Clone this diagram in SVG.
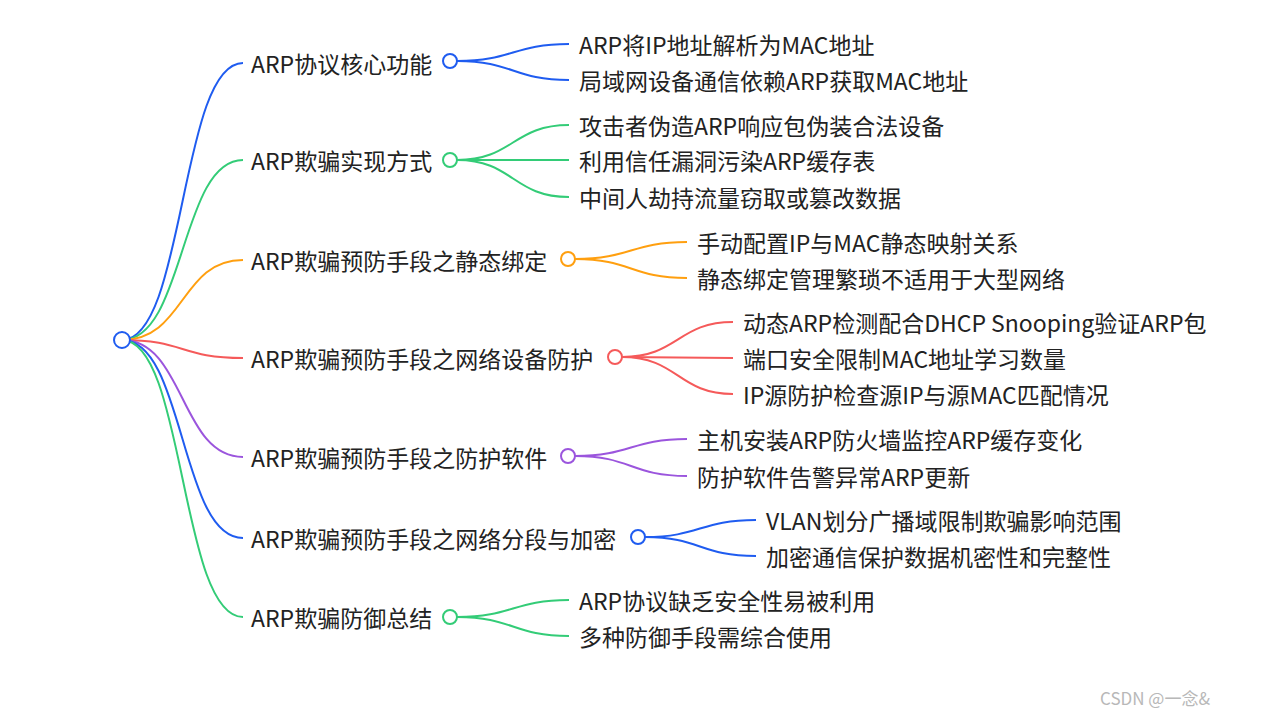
<svg xmlns="http://www.w3.org/2000/svg" width="1261" height="718" viewBox="0 0 1261 718">
<style>
text{font-family:"Noto Sans CJK SC","Noto Sans",sans-serif;font-size:23px;fill:#222;dominant-baseline:central}
.c{fill:none;stroke-width:2}
.n{fill:#fff;stroke-width:2}
.b{stroke:#1f5cf0}.g{stroke:#33cc77}.o{stroke:#ff9f0f}.r{stroke:#f55a5a}.p{stroke:#9b55dd}
</style>
<rect width="1261" height="718" fill="#fff"/>
<g id="connectors">
<path class="c b" d="M122,340 C185,340 180,63 243,63"/>
<path class="c g" d="M122,340 C185,340 180,160 243,160"/>
<path class="c o" d="M122,340 C185,340 180,260 243,260"/>
<path class="c r" d="M122,340 C185,340 180,358 243,358"/>
<path class="c p" d="M122,340 C185,340 180,457 243,457"/>
<path class="c b" d="M122,340 C185,340 180,538 243,538"/>
<path class="c g" d="M122,340 C185,340 180,617 243,617"/>
<path class="c b" d="M457,61 C513,61 513,44 569,44"/>
<path class="c b" d="M457,61 C513,61 513,80 569,80"/>
<path class="c g" d="M457,160 C513,160 513,125 569,125"/>
<path class="c g" d="M457,160 L569,160"/>
<path class="c g" d="M457,160 C513,160 513,197 569,197"/>
<path class="c o" d="M575,259 C631,259 631,242 687,242"/>
<path class="c o" d="M575,259 C631,259 631,278 687,278"/>
<path class="c r" d="M622,357 C678,357 678,322 733,322"/>
<path class="c r" d="M622,357 L733,358"/>
<path class="c r" d="M622,357 C678,357 678,394 733,394"/>
<path class="c p" d="M575,456 C631,456 631,439 687,439"/>
<path class="c p" d="M575,456 C631,456 631,476 687,476"/>
<path class="c b" d="M645,537 C700,537 700,520 756,520"/>
<path class="c b" d="M645,537 C700,537 700,556 756,556"/>
<path class="c g" d="M457,617 C513,617 513,600 569,600"/>
<path class="c g" d="M457,617 C513,617 513,636 569,636"/>
</g>
<g id="root"><circle class="n b" cx="122" cy="340" r="8"/></g>
<g id="n1"><text x="251" y="63">ARP协议核心功能</text><circle class="n b" cx="450" cy="61" r="7"/></g>
<g id="n2"><text x="251" y="160">ARP欺骗实现方式</text><circle class="n g" cx="450" cy="160" r="7"/></g>
<g id="n3"><text x="251" y="260">ARP欺骗预防手段之静态绑定</text><circle class="n o" cx="568" cy="259" r="7"/></g>
<g id="n4"><text x="251" y="358">ARP欺骗预防手段之网络设备防护</text><circle class="n r" cx="615" cy="357" r="7"/></g>
<g id="n5"><text x="251" y="457">ARP欺骗预防手段之防护软件</text><circle class="n p" cx="568" cy="456" r="7"/></g>
<g id="n6"><text x="251" y="538">ARP欺骗预防手段之网络分段与加密</text><circle class="n b" cx="638" cy="537" r="7"/></g>
<g id="n7"><text x="251" y="617">ARP欺骗防御总结</text><circle class="n g" cx="450" cy="617" r="7"/></g>
<g id="leaves">
<text x="579" y="44">ARP将IP地址解析为MAC地址</text>
<text x="579" y="80">局域网设备通信依赖ARP获取MAC地址</text>
<text x="579" y="125">攻击者伪造ARP响应包伪装合法设备</text>
<text x="579" y="160">利用信任漏洞污染ARP缓存表</text>
<text x="579" y="197">中间人劫持流量窃取或篡改数据</text>
<text x="697" y="242">手动配置IP与MAC静态映射关系</text>
<text x="697" y="278">静态绑定管理繁琐不适用于大型网络</text>
<text x="743" y="322">动态ARP检测配合DHCP Snooping验证ARP包</text>
<text x="743" y="358">端口安全限制MAC地址学习数量</text>
<text x="743" y="394">IP源防护检查源IP与源MAC匹配情况</text>
<text x="697" y="439">主机安装ARP防火墙监控ARP缓存变化</text>
<text x="697" y="476">防护软件告警异常ARP更新</text>
<text x="766" y="520">VLAN划分广播域限制欺骗影响范围</text>
<text x="766" y="556">加密通信保护数据机密性和完整性</text>
<text x="579" y="600">ARP协议缺乏安全性易被利用</text>
<text x="579" y="636">多种防御手段需综合使用</text>
</g>
<text x="1100" y="697" style="font-size:17px;fill:#b8b8b8">CSDN @一念&amp;</text>
</svg>
